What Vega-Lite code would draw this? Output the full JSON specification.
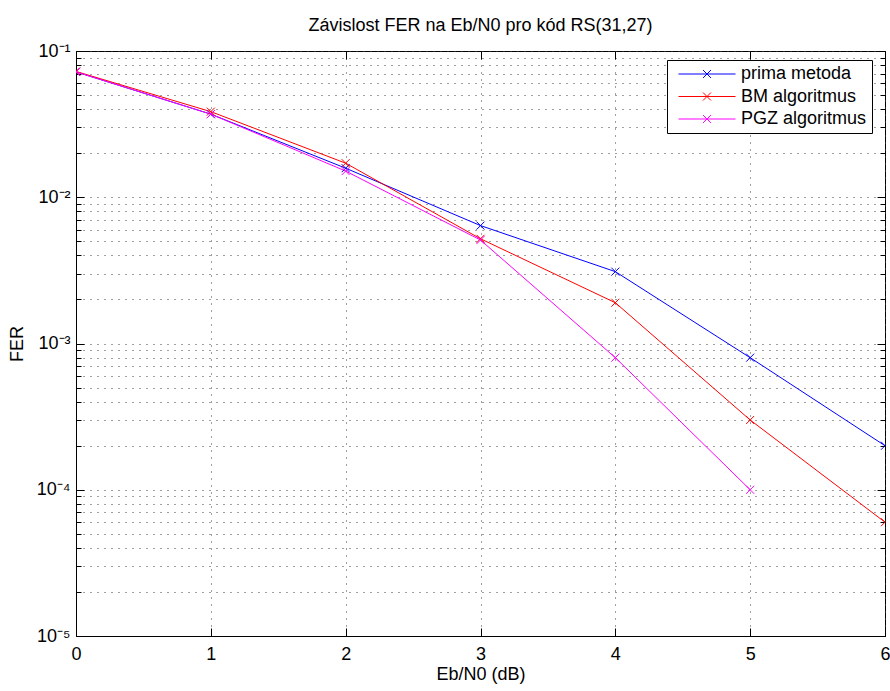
{
  "$schema": "https://vega.github.io/schema/vega-lite/v6.json",
  "width": 809,
  "height": 585,
  "autosize": "none",
  "padding": {"left": 76, "top": 51, "right": 5, "bottom": 55},
  "background": "white",
  "title": {"text": "Závislost FER na Eb/N0 pro kód RS(31,27)", "fontSize": 18, "fontWeight": "normal", "font": "Liberation Sans", "color": "black", "offset": 7},
  "data": {"values": [
    {"ebn0": 0, "fer": 0.072, "method": "prima metoda"},
    {"ebn0": 1, "fer": 0.037, "method": "prima metoda"},
    {"ebn0": 2, "fer": 0.0158, "method": "prima metoda"},
    {"ebn0": 3, "fer": 0.0064, "method": "prima metoda"},
    {"ebn0": 4, "fer": 0.0031, "method": "prima metoda"},
    {"ebn0": 5, "fer": 0.0008, "method": "prima metoda"},
    {"ebn0": 6, "fer": 0.0002, "method": "prima metoda"},
    {"ebn0": 0, "fer": 0.0725, "method": "BM algoritmus"},
    {"ebn0": 1, "fer": 0.0385, "method": "BM algoritmus"},
    {"ebn0": 2, "fer": 0.0171, "method": "BM algoritmus"},
    {"ebn0": 3, "fer": 0.0052, "method": "BM algoritmus"},
    {"ebn0": 4, "fer": 0.0019, "method": "BM algoritmus"},
    {"ebn0": 5, "fer": 0.0003, "method": "BM algoritmus"},
    {"ebn0": 6, "fer": 0.00006, "method": "BM algoritmus"},
    {"ebn0": 0, "fer": 0.072, "method": "PGZ algoritmus"},
    {"ebn0": 1, "fer": 0.037, "method": "PGZ algoritmus"},
    {"ebn0": 2, "fer": 0.0151, "method": "PGZ algoritmus"},
    {"ebn0": 3, "fer": 0.0051, "method": "PGZ algoritmus"},
    {"ebn0": 4, "fer": 0.0008, "method": "PGZ algoritmus"},
    {"ebn0": 5, "fer": 0.0001, "method": "PGZ algoritmus"}
  ]},
  "encoding": {
    "x": {"field": "ebn0", "type": "quantitative",
      "scale": {"domain": [0, 6], "nice": false, "zero": false},
      "axis": {"orient": "bottom", "title": "Eb/N0 (dB)", "values": [0, 1, 2, 3, 4, 5, 6], "format": "d",
        "grid": true, "gridDash": [1, 6], "gridColor": "#404040", "gridWidth": 1,
        "tickSize": -8, "tickColor": "black", "labelPadding": 17, "labelFlush": false,
        "labelFontSize": 18, "labelFont": "Liberation Sans", "labelColor": "black",
        "titleFontSize": 18, "titleFont": "Liberation Sans", "titleFontWeight": "normal", "titleColor": "black", "titlePadding": 2,
        "domainColor": "black"}},
    "y": {"field": "fer", "type": "quantitative",
      "scale": {"type": "log", "domain": [0.00001, 0.1], "nice": false},
      "axis": {"orient": "left", "title": "FER",
        "values": [0.00001, 0.00002, 0.00003, 0.00004, 0.00005, 0.00006, 0.00007, 0.00008, 0.00009,
                   0.0001, 0.0002, 0.0003, 0.0004, 0.0005, 0.0006, 0.0007, 0.0008, 0.0009,
                   0.001, 0.002, 0.003, 0.004, 0.005, 0.006, 0.007, 0.008, 0.009,
                   0.01, 0.02, 0.03, 0.04, 0.05, 0.06, 0.07, 0.08, 0.09, 0.1],
        "labelExpr": "abs(log(datum.value)/LN10 - round(log(datum.value)/LN10)) < 0.001 ? '10' + ['⁻⁵','⁻⁴','⁻³','⁻²','⁻¹'][round(log(datum.value)/LN10)+5] : ''",
        "labelOverlap": false, "labelBound": false, "labelFlush": false,
        "grid": true, "gridDash": [1, 6], "gridColor": "#404040", "gridWidth": 1,
        "tickSize": {"condition": {"test": "abs(log(datum.value)/LN10 - round(log(datum.value)/LN10)) < 0.001", "value": -8}, "value": -5},
        "tickColor": "black", "labelPadding": 14, "labelBaseline": "middle",
        "labelFontSize": 18, "labelFont": "Liberation Sans", "labelColor": "black",
        "titleFontSize": 18, "titleFont": "Liberation Sans", "titleFontWeight": "normal", "titleColor": "black", "titlePadding": 10,
        "domainColor": "black"}},
    "color": {"field": "method", "type": "nominal",
      "scale": {"domain": ["prima metoda", "BM algoritmus", "PGZ algoritmus"], "range": ["#0000ff", "#ff0000", "#ff00ff"]},
      "legend": {"orient": "none", "legendX": 591, "legendY": 9, "title": null,
        "symbolType": "M-1,0L1,0M-0.14,-0.14L0.14,0.14M-0.14,0.14L0.14,-0.14",
        "symbolSize": 3249, "symbolStrokeWidth": 1, "symbolFillColor": "transparent", "symbolOffset": 6,
        "clipHeight": 18, "rowPadding": 4.5, "padding": 5, "labelOffset": 5,
        "labelFontSize": 18, "labelFont": "Liberation Sans", "labelColor": "black",
        "strokeColor": "black", "fillColor": "white"}}
  },
  "layer": [
    {"mark": {"type": "line", "strokeWidth": 1, "clip": true}},
    {"mark": {"type": "point", "shape": "M-1,-1L1,1M-1,1L1,-1", "size": 64, "filled": false, "strokeWidth": 1, "opacity": 1, "clip": true},
     "encoding": {
       "x": {"field": "ebn0", "type": "quantitative",
         "axis": {"orient": "top", "title": null, "labels": false, "grid": false, "domain": false, "values": [0, 1, 2, 3, 4, 5, 6], "tickSize": -8, "tickColor": "black"}},
       "y": {"field": "fer", "type": "quantitative",
         "axis": {"orient": "right", "title": null, "labels": false, "grid": false, "domain": false,
           "values": [0.00001, 0.00002, 0.00003, 0.00004, 0.00005, 0.00006, 0.00007, 0.00008, 0.00009,
                      0.0001, 0.0002, 0.0003, 0.0004, 0.0005, 0.0006, 0.0007, 0.0008, 0.0009,
                      0.001, 0.002, 0.003, 0.004, 0.005, 0.006, 0.007, 0.008, 0.009,
                      0.01, 0.02, 0.03, 0.04, 0.05, 0.06, 0.07, 0.08, 0.09, 0.1],
           "tickSize": {"condition": {"test": "abs(log(datum.value)/LN10 - round(log(datum.value)/LN10)) < 0.001", "value": -8}, "value": -5},
           "tickColor": "black"}}
     }}
  ],
  "resolve": {"axis": {"x": "independent", "y": "independent"}},
  "config": {"view": {"stroke": "black", "strokeWidth": 1}, "axis": {"domainWidth": 1, "tickWidth": 1}}
}
